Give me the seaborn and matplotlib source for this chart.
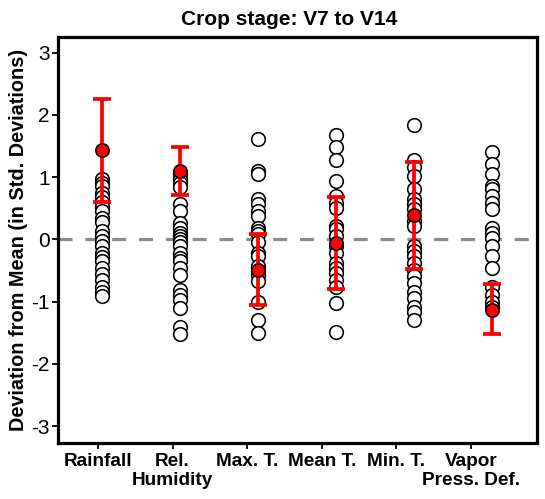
import matplotlib
matplotlib.use("Agg")
import matplotlib.pyplot as plt
import seaborn as sns
import pandas as pd
import numpy as np

categories = ["Rainfall", "Rel.\nHumidity", "Max. T.", "Mean T.", "Min. T.", "Vapor\nPress. Def."]

rainfall = [0.97, 0.90, 0.86, 0.75, 0.68, 0.60, 0.52, 0.46, 0.35, 0.28, 0.13, 0.05, -0.02,
            -0.11, -0.22, -0.28, -0.35, -0.46, -0.55, -0.65, -0.76, -0.84, -0.91]
rel_humidity = [1.05, 0.97, 0.90, 0.84, 0.57, 0.45, 0.27, 0.19, 0.11, 0.05, 0.0, -0.05, -0.11,
                -0.22, -0.30, -0.35, -0.46, -0.57, -0.81, -0.90, -0.97, -1.10, -1.40, -1.52]
max_t = [1.61, 1.10, 1.05, 0.65, 0.57, 0.46, 0.38, 0.19, 0.13, 0.08, -0.05, -0.22, -0.27,
         -0.43, -0.51, -0.57, -0.67, -1.00, -1.29, -1.51]
mean_t = [1.67, 1.48, 1.27, 0.94, 0.70, 0.59, 0.51, 0.22, 0.16, 0.05, -0.11, -0.22, -0.38,
          -0.46, -0.54, -0.65, -0.76, -1.02, -1.48]
min_t = [1.84, 1.27, 1.16, 1.02, 0.81, 0.65, 0.57, 0.49, 0.30, 0.22, -0.11, -0.19, -0.27,
         -0.38, -0.49, -0.59, -0.70, -0.84, -0.94, -1.08, -1.16, -1.29]
vpd = [1.41, 1.21, 1.05, 0.86, 0.81, 0.70, 0.59, 0.49, 0.19, 0.11, 0.03, -0.11, -0.27,
       -0.46, -0.76, -0.89, -1.00, -1.08]

current_value = [1.44, 1.10, -0.49, -0.06, 0.39, -1.13]
bar_low = [0.60, 0.72, -1.05, -0.80, -0.47, -1.52]
bar_high = [2.26, 1.48, 0.08, 0.68, 1.25, -0.71]

series = [rainfall, rel_humidity, max_t, mean_t, min_t, vpd]
df = pd.DataFrame({
    "variable": [c for c, s in zip(categories, series) for _ in s],
    "value": [v for s in series for v in s],
})

sns.set_theme(style="white")
plt.rcParams["font.family"] = ["Liberation Sans", "DejaVu Sans"]
plt.rcParams["text.color"] = "black"
plt.rcParams["axes.labelcolor"] = "black"
plt.rcParams["xtick.color"] = "black"
plt.rcParams["ytick.color"] = "black"

fig, ax = plt.subplots(figsize=(5.45, 4.99), dpi=100)
fig.subplots_adjust(left=58/545, right=537/545, top=1-37/499, bottom=1-443/499)

ax.axhline(0, color="#8c8c8c", lw=2.3, linestyle=(0, (4.4, 4.0)), zorder=1)

sns.stripplot(data=df, x="variable", y="value", order=categories, jitter=False,
              color="white", edgecolor="black", linewidth=1.15, size=9.8, ax=ax, zorder=3)

xpos = np.arange(len(categories))
cur = np.array(current_value)
lo = np.array(bar_low)
hi = np.array(bar_high)
mid = (lo + hi) / 2
ax.errorbar(xpos, mid, yerr=[mid - lo, hi - mid], fmt="none", ecolor="red",
            elinewidth=2.7, capsize=6.2, capthick=2.7, zorder=4)
ax.scatter(xpos, cur, s=92, color="red", edgecolor="black", linewidth=1.15, zorder=5)

ax.set_xlim(-0.564, 5.577)
ax.set_ylim(-3.27, 3.25)
tick_pos = -0.051 + 0.956 * xpos
ax.set_xticks(tick_pos)
ax.set_xticklabels(categories, fontsize=13.7, fontweight="bold", linespacing=1.12, color="black")
ax.set_yticks([-3, -2, -1, 0, 1, 2, 3])
ax.set_yticklabels(["-3", "-2", "-1", "0", "1", "2", "3"], fontsize=15, color="black")
ax.tick_params(axis="y", direction="out", length=4, width=1.3, color="black",
               labelcolor="black", left=True, pad=2)
ax.tick_params(axis="x", direction="out", length=4, width=1.3, color="black",
               labelcolor="black", bottom=True, pad=3.5)
ax.set_xlabel("")
ax.set_ylabel("Deviation from Mean (in Std. Deviations)", fontsize=14.3,
              fontweight="bold", labelpad=2, color="black")
for sp in ax.spines.values():
    sp.set_linewidth(2.3)
    sp.set_color("black")

ax.text(0.482, 1.02, "Crop stage: V7 to V14", transform=ax.transAxes,
        ha="center", va="bottom", fontsize=15, fontweight="bold", color="black")

fig.savefig("out.png", dpi=100)
